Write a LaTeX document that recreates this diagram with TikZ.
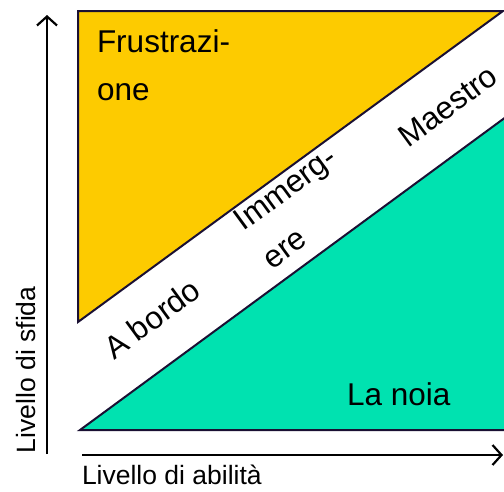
\documentclass[tikz,border=0pt]{standalone}
\usepackage{fontspec}
\setmainfont{Liberation Sans}
\usetikzlibrary{arrows.meta}
\definecolor{zoneyellow}{RGB}{253,203,0}
\definecolor{zonegreen}{RGB}{0,226,176}
\definecolor{outline}{RGB}{26,16,51}
\begin{document}
\begin{tikzpicture}[x=1pt,y=-1pt,
  zone/.style={draw=outline,line width=2pt,line join=miter},
  axis/.style={draw=black,line width=2.4pt,-{Straight Barb[length=9pt,width=20pt,line width=2.2pt]}},
  bigtext/.style={inner sep=0pt,outer sep=0pt,font=\fontsize{31.5}{47.5}\selectfont,align=left,anchor=base west},
  axistext/.style={inner sep=0pt,outer sep=0pt,font=\fontsize{26.5}{32}\selectfont,anchor=base west}]
\useasboundingbox (0,0) rectangle (504,491);
\clip (0,0) rectangle (504,491);
% zones
\draw[zone,fill=zoneyellow] (78,11) -- (503,11) -- (78,322) -- cycle;
\draw[zone,fill=zonegreen] (80,430) -- (510,114) -- (510,430) -- cycle;
% axes
\coordinate (yfrom) at (47,454);
\coordinate (yto) at (47,15);
\coordinate (xfrom) at (82,455);
\coordinate (xto) at (503,455);
\draw[axis] (yfrom) -- (yto);
\draw[axis] (xfrom) -- (xto);
% labels
\node[bigtext] (frus) at (97,100) {Frustrazi-\\one};
\node[bigtext] (noia) at (347,405) {La noia};
\node[bigtext,rotate=36.2] (bordo) at (114,360) {A bordo};
\node[bigtext,rotate=36.2] (immer) at (272,270) {Immerg-\\ere};
\node[bigtext,rotate=36.2] (maestro) at (408,148) {Maestro};
\node[axistext] (xlab) at (82,484) {Livello di abilità};
\node[axistext,rotate=90] (ylab) at (35,453) {Livello di sfida};
\end{tikzpicture}
\end{document}
